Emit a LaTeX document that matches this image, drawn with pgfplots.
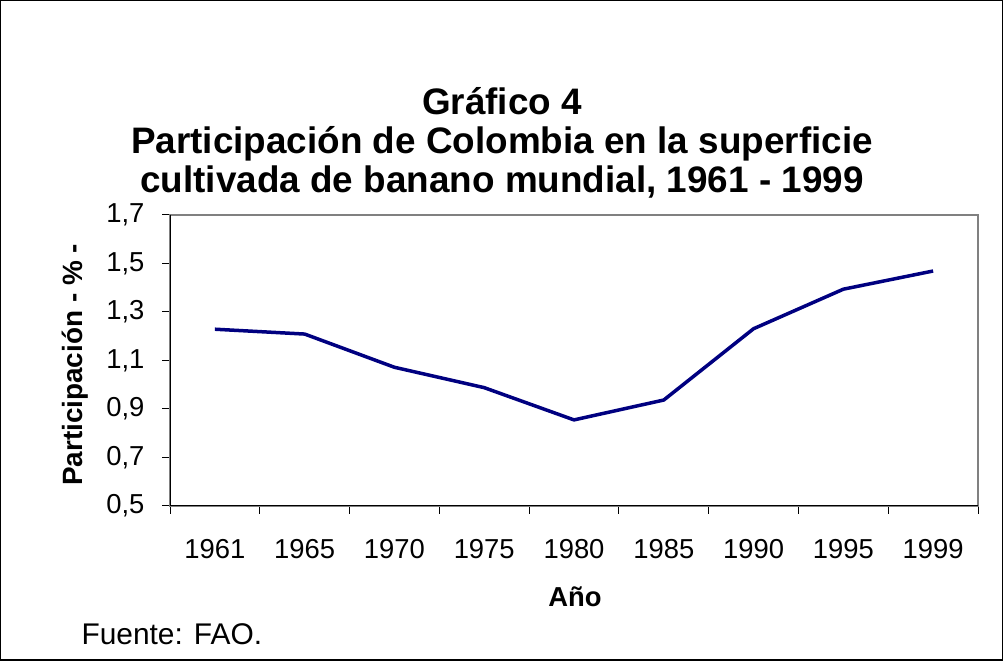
\documentclass[border=0pt]{standalone}
\usepackage{pgfplots}
\pgfplotsset{compat=1.18}
\usepackage{fontspec}
\setmainfont{Liberation Sans}
\definecolor{serie}{RGB}{0,0,128}
\definecolor{marco}{RGB}{128,128,128}
\begin{document}
\begin{tikzpicture}[x=1bp,y=1bp]
\useasboundingbox (0,0) rectangle (1003,661);
\draw[black,line width=1.5bp] (0.75,0.75) rectangle (1002.25,660.25);
\begin{axis}[at={(170bp,155bp)},anchor=south west,scale only axis,
  width=808bp,height=291bp,
  xmin=-0.5,xmax=8.5,ymin=0.5,ymax=1.7,
  xtick={0,...,8},
  xticklabels={1961,1965,1970,1975,1980,1985,1990,1995,1999},
  major x tick style={draw=none},
  minor xtick={-0.5,0.5,...,8.5},
  ytick={0.5,0.7,...,1.7},
  xtick pos=bottom,ytick pos=left,
  tick align=outside,
  major tick length=8bp,minor tick length=8bp,
  tick style={black,line width=1bp},
  axis line style={marco,line width=2bp},
  ticklabel style={font=\fontsize{27.5}{30}\selectfont},
  xticklabel style={yshift=-22bp},
  yticklabel style={xshift=-14bp},
  /pgf/number format/assume math mode=true,
  /pgf/number format/.cd,use comma,fixed,fixed zerofill,precision=1,
  ]
\addplot[serie,line width=3.5bp] coordinates {
(0,1.229) (1,1.209) (2,1.072) (3,0.988) (4,0.855) (5,0.937) (6,1.231) (7,1.394) (8,1.469)};
\draw[black,line width=1.5bp] (rel axis cs:0,1) -- (rel axis cs:0,0) -- (rel axis cs:1,0);
\end{axis}
\node[font=\bfseries\fontsize{37}{39}\selectfont,align=center] at (502,518) {Gráfico 4\\Participación de Colombia en la superficie\\cultivada de banano mundial, 1961 - 1999};
\node[font=\bfseries\fontsize{27.5}{30}\selectfont] at (575,64) {Año};
\node[font=\bfseries\fontsize{28}{30}\selectfont,rotate=90] at (75,296) {Participación - \% -};
\node[font=\fontsize{30}{32}\selectfont,anchor=west] at (78,27) {Fuente: FAO.};
\end{tikzpicture}
\end{document}
